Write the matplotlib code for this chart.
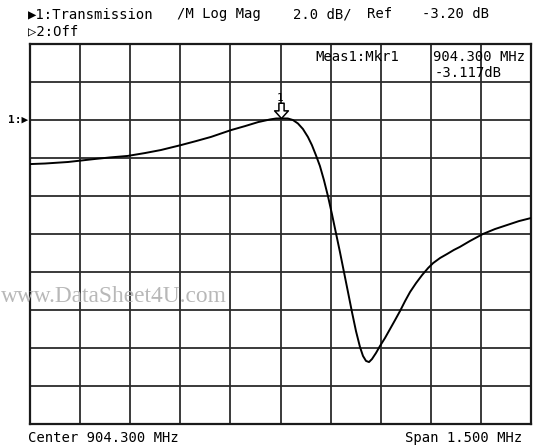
import matplotlib
matplotlib.use('Agg')
import matplotlib.pyplot as plt
import numpy as np
from matplotlib.path import Path

center_mhz = 904.3
span_mhz = 1.5
scale_db = 2.0
ref_db = -3.20
marker_freq = 904.300
marker_db = -3.117

freq_mhz = [903.550, 903.595, 903.664, 903.745, 903.790, 903.843, 903.894, 903.942,
            904.002, 904.047, 904.092, 904.152, 904.194, 904.233, 904.269, 904.287,
            904.300, 904.322, 904.337, 904.352, 904.367, 904.382, 904.394, 904.406,
            904.418, 904.430, 904.442, 904.454, 904.466, 904.478, 904.490, 904.502,
            904.514, 904.526, 904.538, 904.547, 904.556, 904.565, 904.574, 904.586,
            904.598, 904.613, 904.628, 904.643, 904.658, 904.673, 904.688, 904.706,
            904.724, 904.742, 904.757, 904.778, 904.799, 904.819, 904.837, 904.867,
            904.906, 904.942, 904.978, 905.014, 905.050]
mag_db = [-5.52, -5.49, -5.41, -5.25, -5.17, -5.09, -4.94, -4.78,
          -4.52, -4.31, -4.09, -3.73, -3.52, -3.31, -3.17, -3.12,
          -3.117, -3.12, -3.20, -3.38, -3.67, -4.09, -4.52, -5.05,
          -5.62, -6.36, -7.20, -8.15, -9.15, -10.15, -11.20, -12.25,
          -13.31, -14.31, -15.15, -15.62, -15.88, -15.94, -15.78, -15.46,
          -15.09, -14.67, -14.20, -13.73, -13.25, -12.73, -12.25, -11.78,
          -11.36, -10.99, -10.73, -10.46, -10.25, -10.04, -9.88, -9.57,
          -9.20, -8.94, -8.73, -8.52, -8.36]

header1 = [("\u25B61:Transmission", 28), ("/M Log Mag", 177), ("2.0 dB/", 293),
           ("Ref", 367), ("-3.20 dB", 422)]
header2 = "\u25B72:Off"
meas_label = "Meas1:Mkr1"
meas_freq = "904.300 MHz"
meas_val = "-3.117dB"
footer_left = "Center 904.300 MHz"
footer_right = "Span 1.500 MHz"
watermark = "www.DataSheet4U.com"

W, H = 534, 448
MONO = ['DejaVu Sans Mono', 'DejaVu Sans']


def fx(px):
    return px / W


def fy(py):
    return 1 - py / H


fig = plt.figure(figsize=(W / 100, H / 100), dpi=100)
fig.patch.set_facecolor('white')
left, right, top, bottom = 30, 531, 44, 424
ax = fig.add_axes([fx(left), fy(bottom), fx(right) - fx(left), fy(top) - fy(bottom)])

xmin, xmax = center_mhz - span_mhz / 2, center_mhz + span_mhz / 2
ymax = ref_db + 2 * scale_db
ymin = ref_db - 8 * scale_db
ax.set_xlim(xmin, xmax)
ax.set_ylim(ymin, ymax)
ax.set_xticks(np.linspace(xmin, xmax, 11))
ax.set_yticks(np.linspace(ymin, ymax, 11))
ax.grid(True, color='#2b2b2b', linewidth=1.3)
ax.set_axisbelow(True)
ax.tick_params(length=0, labelbottom=False, labelleft=False)
for s in ax.spines.values():
    s.set_linewidth(1.6)
    s.set_color('#1a1a1a')

ax.plot(freq_mhz, mag_db, color='black', linewidth=1.4, zorder=3,
        solid_joinstyle='round', solid_capstyle='round')

# marker arrow
verts = [(0, 0), (-0.45, 0.5), (-0.17, 0.5), (-0.17, 1.0), (0.17, 1.0),
         (0.17, 0.5), (0.45, 0.5), (0, 0)]
codes = [Path.MOVETO] + [Path.LINETO] * 6 + [Path.CLOSEPOLY]
arrow = Path(verts, codes)
ax.plot([marker_freq], [marker_db], linestyle='none', marker=arrow, markersize=22,
        markerfacecolor='white', markeredgecolor='black', markeredgewidth=1.1,
        zorder=5, clip_on=False)
ax.annotate('1', xy=(marker_freq, marker_db), xytext=(0, 15), textcoords='offset points',
            ha='center', va='center', fontsize=8, family=MONO, zorder=6)

# reference marker at left
ax.text(-0.003, ref_db, '1:\u25B6', transform=ax.get_yaxis_transform(), ha='right',
        va='center', fontsize=8, family=MONO, fontweight='bold')

# header
for txt, x in header1:
    fig.text(fx(x), fy(14), txt, ha='left', va='center', fontsize=10, family=MONO)
fig.text(fx(28), fy(31), header2, ha='left', va='center', fontsize=10, family=MONO)

# marker readout
fig.text(fx(315), fy(57), meas_label, ha='left', va='center', fontsize=10, family=MONO)
fig.text(fx(525), fy(57), meas_freq, ha='right', va='center', fontsize=10, family=MONO)
fig.text(fx(435), fy(73), meas_val, ha='left', va='center', fontsize=10, family=MONO)

# footer
fig.text(fx(28), fy(438), footer_left, ha='left', va='center', fontsize=10, family=MONO)
fig.text(fx(522), fy(438), footer_right, ha='right', va='center', fontsize=10, family=MONO)

# watermark
fig.text(fx(1), fy(296), watermark, ha='left', va='center', fontsize=16.8,
         family=['Liberation Serif', 'DejaVu Serif'], color='#b8b8b8')

fig.savefig('out.png', dpi=100)
